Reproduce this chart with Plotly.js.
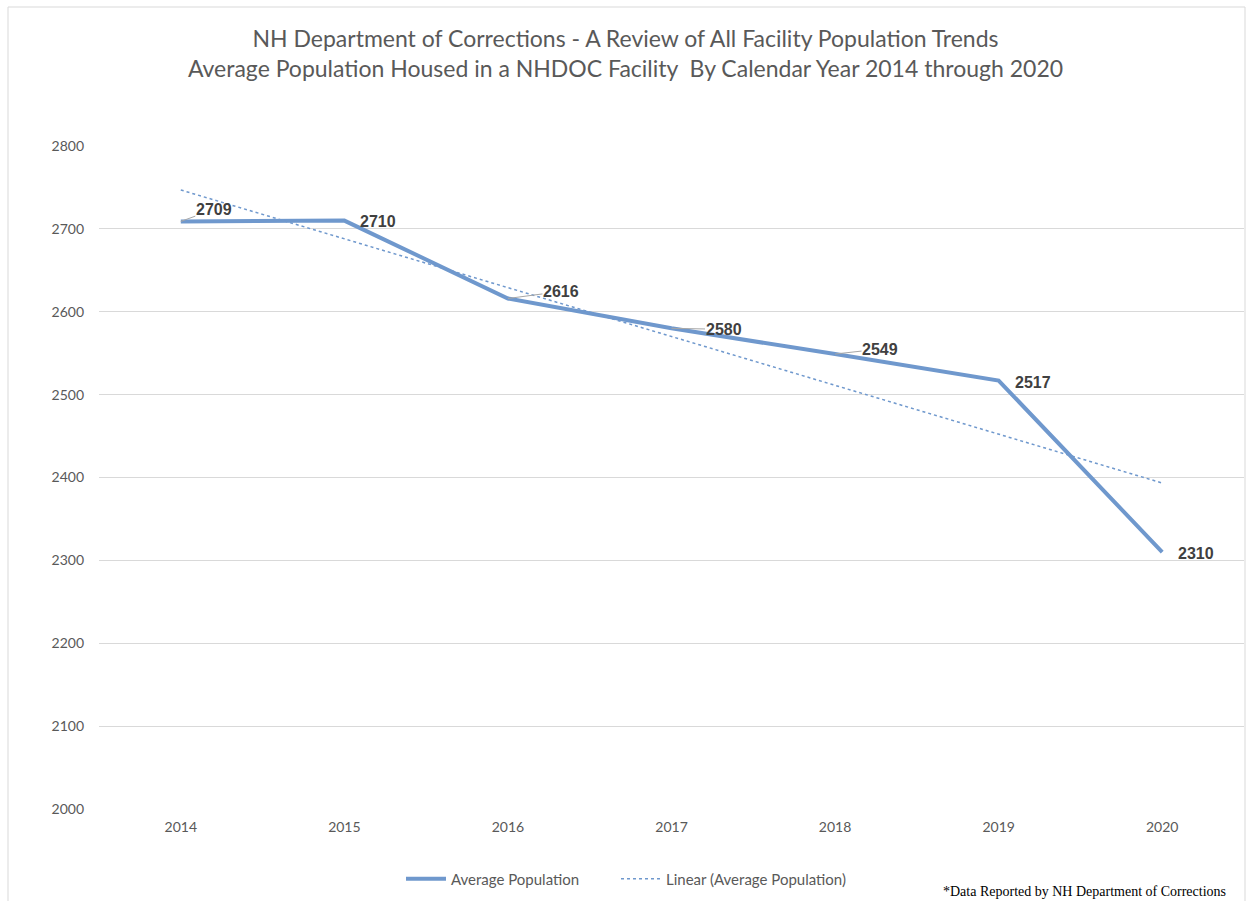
<!DOCTYPE html>
<html>
<head>
<meta charset="utf-8">
<script src="https://cdn.plot.ly/plotly-3.0.1.min.js"></script>
<style>
  html, body { margin: 0; padding: 0; background: #fff; }
  #chart { width: 1246px; height: 901px; }
</style>
</head>
<body>
<div id="chart"></div>
<script>
// ---- Data ----
const years = ["2014", "2015", "2016", "2017", "2018", "2019", "2020"];
const avgPopulation = [2709, 2710, 2616, 2580, 2549, 2517, 2310];
const yTicks = [2000, 2100, 2200, 2300, 2400, 2500, 2600, 2700, 2800];

// Linear trendline (least squares on category index), as Excel's "Linear" trendline
function linearFit(vals) {
  const n = vals.length;
  const xs = vals.map((_, i) => i);
  const mx = xs.reduce((a, b) => a + b, 0) / n;
  const my = vals.reduce((a, b) => a + b, 0) / n;
  let sxy = 0, sxx = 0;
  xs.forEach((x, i) => { sxy += (x - mx) * (vals[i] - my); sxx += (x - mx) * (x - mx); });
  const slope = sxy / sxx;
  const icpt = my - slope * mx;
  return xs.map(x => icpt + slope * x);
}
const trend = linearFit(avgPopulation);

const lineColor = "#6F98CD";
const uiFont = "Lato, Liberation Sans, Arial, sans-serif";
const labelFont = { family: "Liberation Sans, Arial, sans-serif", size: 16, color: "#404040" };

// label offsets (px) relative to each point; leader flag
const labelStyle = [
  { dx: 33, dy: -12, leader: true },
  { dx: 34, dy: 1, leader: false },
  { dx: 53, dy: -7, leader: true },
  { dx: 52, dy: 1, leader: true },
  { dx: 45, dy: -5, leader: true },
  { dx: 34, dy: 2, leader: false },
  { dx: 34, dy: 1, leader: false }
];

// category index of each year on the category axis
const catIndex = years.map((_, i) => i);

const annotations = years.map((yr, i) => {
  const s = labelStyle[i];
  const base = {
    x: catIndex[i], y: avgPopulation[i], xref: "x", yref: "y",
    text: "<b>" + avgPopulation[i] + "</b>",
    font: labelFont
  };
  if (s.leader) {
    return Object.assign(base, {
      showarrow: true, arrowhead: 0, arrowwidth: 1, arrowcolor: "#A6A6A6",
      ax: s.dx, ay: s.dy, standoff: 0, startstandoff: 0, borderpad: 0
    });
  }
  return Object.assign(base, { showarrow: false, xshift: s.dx, yshift: -s.dy });
});

annotations.push({
  xref: "paper", yref: "paper",
  x: (1228 - 99) / 1145, y: (809 - 891) / 663,
  xanchor: "right", yanchor: "middle",
  text: "*Data Reported by NH Department of Corrections",
  showarrow: false,
  font: { family: "Liberation Serif, Times New Roman, serif", size: 14, color: "#000000" }
});

const traces = [
  {
    x: years, y: avgPopulation,
    type: "scatter", mode: "lines",
    name: "Average Population",
    line: { color: lineColor, width: 4 },
    legend: "legend",
    hoverinfo: "x+y"
  },
  {
    x: years, y: trend,
    type: "scatter", mode: "lines",
    name: "Linear (Average Population)",
    line: { color: lineColor, width: 1.5, dash: "dot" },
    legend: "legend2",
    hoverinfo: "skip"
  }
];

const legendCommon = {
  orientation: "h",
  xanchor: "left",
  y: (809 - 879) / 663, yanchor: "middle",
  font: { family: uiFont, size: 15, color: "#595959" },
  bgcolor: "rgba(0,0,0,0)",
  itemwidth: 40
};

const layout = {
  width: 1246, height: 901,
  margin: { l: 99, r: 2, t: 146, b: 92, pad: 0 },
  paper_bgcolor: "#ffffff",
  plot_bgcolor: "#ffffff",
  title: {
    text: "NH Department of Corrections - A Review of All Facility Population Trends<br>Average Population Housed in a NHDOC Facility  By Calendar Year 2014 through 2020",
    font: { family: uiFont, size: 23, color: "#595959" },
    x: 0.502, xanchor: "center",
    y: 1 - 47 / 901, yanchor: "middle"
  },
  xaxis: {
    type: "category",
    categoryorder: "array",
    categoryarray: years,
    range: [-0.5, years.length - 0.5],
    showgrid: false,
    zeroline: false,
    showline: false,
    ticks: "",
    tickfont: { family: uiFont, size: 14, color: "#595959" },
    ticklabelstandoff: 8,
    fixedrange: true
  },
  yaxis: {
    range: [2000, 2800],
    tickvals: yTicks,
    showgrid: true,
    gridcolor: "#D9D9D9",
    gridwidth: 1,
    zeroline: false,
    showline: false,
    ticks: "",
    tickfont: { family: uiFont, size: 14, color: "#595959" },
    ticklabelstandoff: 14,
    fixedrange: true
  },
  showlegend: true,
  legend: Object.assign({}, legendCommon, { x: (405 - 4 - 99) / 1145 }),
  legend2: Object.assign({}, legendCommon, { x: (620 - 4 - 99) / 1145 }),
  annotations: annotations,
  shapes: [
    {
      type: "rect", xref: "paper", yref: "paper",
      x0: (8 - 99) / 1145, x1: (1245 - 99) / 1145,
      y0: (809 - 910) / 663, y1: (809 - 7) / 663,
      line: { color: "#D9D9D9", width: 1 },
      fillcolor: "rgba(0,0,0,0)",
      layer: "below"
    }
  ]
};

Plotly.newPlot("chart", traces, layout, { displayModeBar: false, responsive: false });
</script>
</body>
</html>
